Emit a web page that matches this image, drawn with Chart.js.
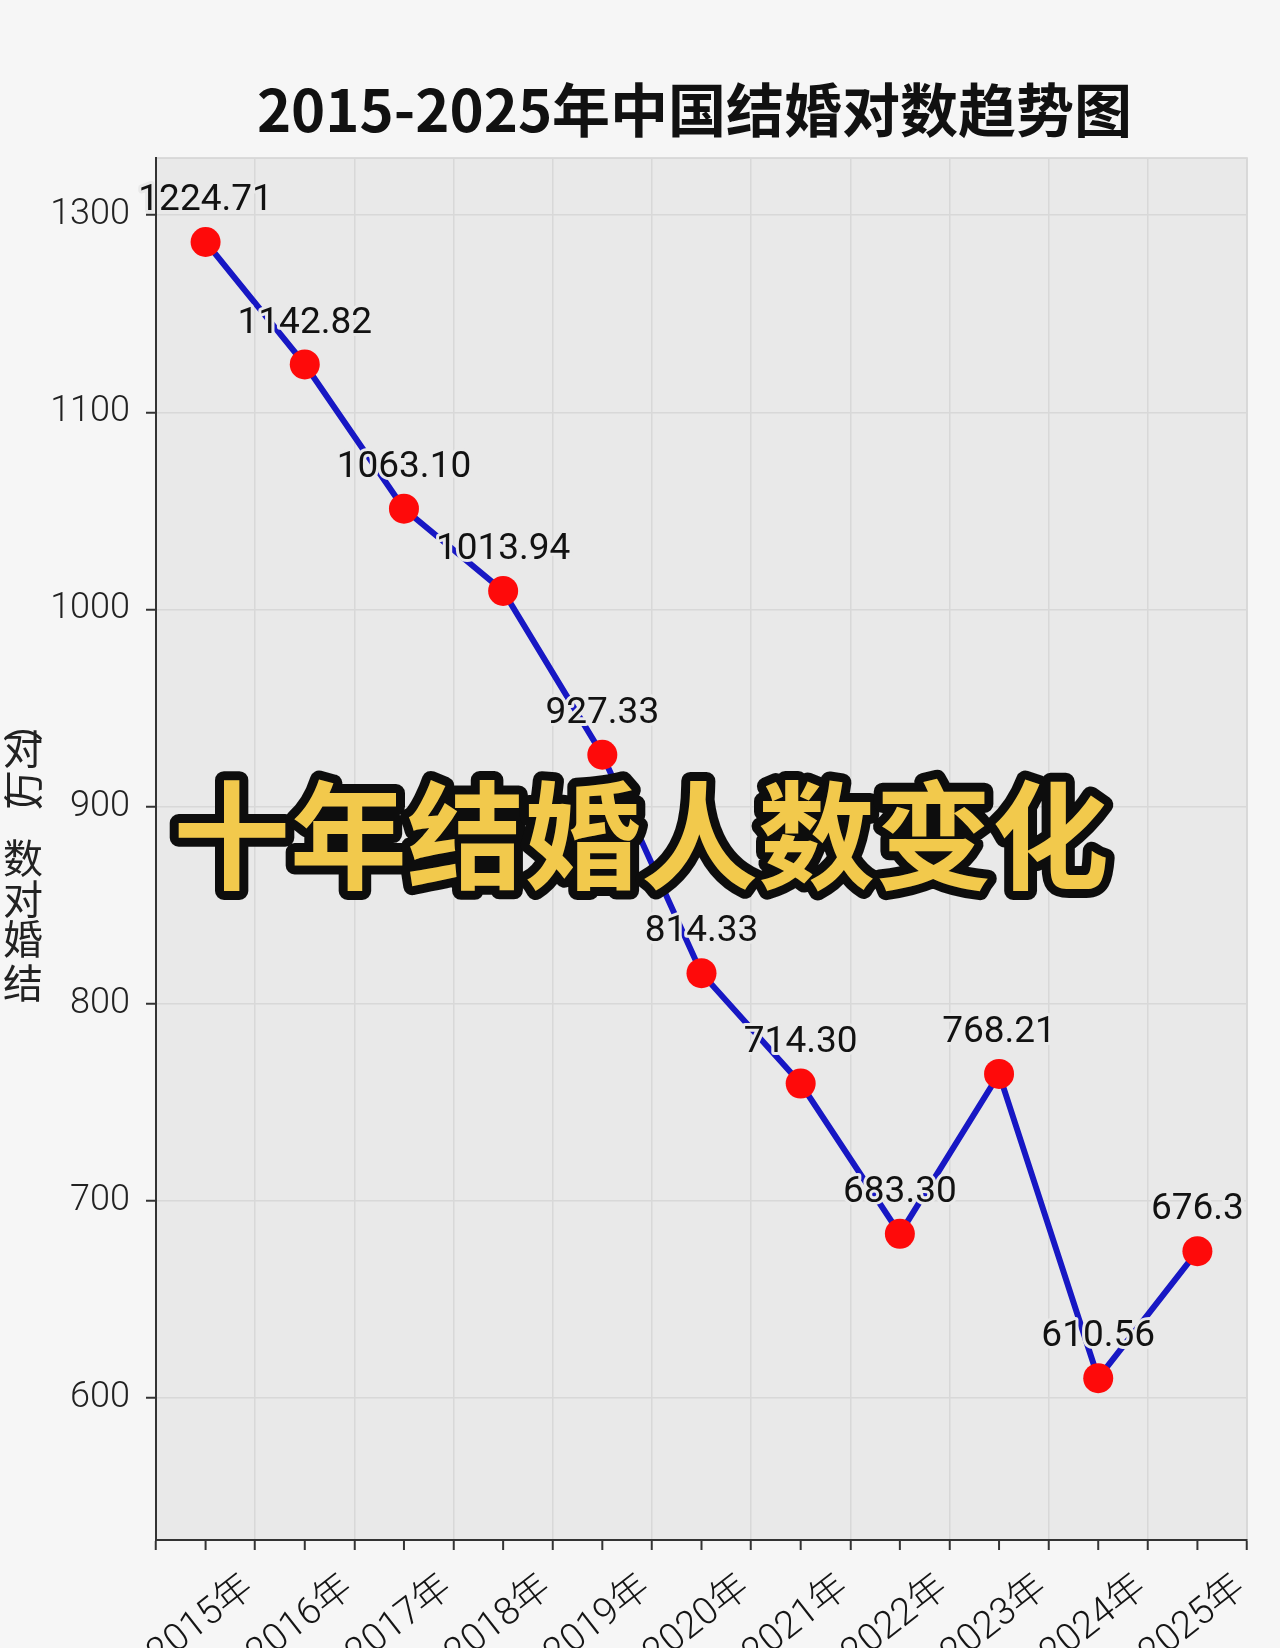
<!DOCTYPE html>
<html>
<head>
<meta charset="utf-8">
<script src="https://cdn.jsdelivr.net/npm/chart.js@4/dist/chart.umd.min.js"></script>
<style>
  html, body { margin: 0; padding: 0; background: #f6f6f6; }
  #wrap { width: 1280px; height: 1648px; }
</style>
</head>
<body>
<div id="wrap"><canvas id="marriageChart" width="1280" height="1648"></canvas></div>
<script>
// Values (plotted point heights) and the labels printed above them
const years = ['2015年', '2016年', '2017年', '2018年', '2019年', '2020年', '2021年', '2022年', '2023年', '2024年', '2025年'];
const plottedPairs = [1186.4, 1124.3, 1051.1, 1009.4, 926.3, 815.5, 759.5, 683.3, 764.4, 610.1, 674.5];
const pointLabels = ['1224.71', '1142.82', '1063.10', '1013.94', '927.33', '814.33', '714.30', '683.30', '768.21', '610.56', '676.3'];

// y tick positions and the text printed at them (top one reads 1300 in the source)
const yTickValues = [600, 700, 800, 900, 1000, 1100, 1200];
const yTickLabels = ['600', '700', '800', '900', '1000', '1100', '1300'];

const chartTitle = '2015-2025年中国结婚对数趋势图';
const overlayText = '十年结婚人数变化';
const yTitleChars = ['︵', '对', '万', '︶', '数', '对', '婚', '结'];

const PLOT_BG = '#e9e9e9';
const GRID = '#d8d8d8';
const AXIS = '#333333';

// Background for page and plot area, plus light top/right frame
const plotBackground = {
    id: 'plotBackground',
    beforeDraw(chart) {
        const { ctx, chartArea: a } = chart;
        ctx.save();
        ctx.fillStyle = '#f6f6f6';
        ctx.fillRect(0, 0, chart.width, chart.height);
        ctx.fillStyle = PLOT_BG;
        ctx.fillRect(a.left, a.top, a.right - a.left, a.bottom - a.top);
        ctx.strokeStyle = '#d2d2d2';
        ctx.lineWidth = 1.5;
        ctx.beginPath();
        ctx.moveTo(a.left, a.top);
        ctx.lineTo(a.right, a.top);
        ctx.lineTo(a.right, a.bottom);
        ctx.stroke();
        ctx.restore();
    }
};

// Extra tick marks at the category centres (grid ticks sit between categories)
const centerTicks = {
    id: 'centerTicks',
    afterDraw(chart) {
        const { ctx } = chart;
        const x = chart.scales.x;
        ctx.save();
        ctx.strokeStyle = AXIS;
        ctx.lineWidth = 2;
        years.forEach((_, i) => {
            const px = x.getPixelForValue(i);
            ctx.beginPath();
            ctx.moveTo(px, x.top);
            ctx.lineTo(px, x.top + 10);
            ctx.stroke();
        });
        ctx.restore();
    }
};

// Value labels above each point
const pointValueLabels = {
    id: 'pointValueLabels',
    afterDatasetsDraw(chart) {
        const { ctx } = chart;
        const meta = chart.getDatasetMeta(0);
        ctx.save();
        ctx.font = '37px Roboto';
        ctx.textAlign = 'center';
        ctx.textBaseline = 'middle';
        ctx.lineJoin = 'round';
        meta.data.forEach((pt, i) => {
            const y = pt.y - 41;
            ctx.strokeStyle = PLOT_BG;
            ctx.lineWidth = 6;
            ctx.strokeText(pointLabels[i], pt.x, y);
            ctx.fillStyle = '#121212';
            ctx.fillText(pointLabels[i], pt.x, y);
        });
        ctx.restore();
    }
};

// Title, stacked y-axis title and the big yellow caption
const textLayer = {
    id: 'textLayer',
    afterDraw(chart) {
        const { ctx, chartArea: a } = chart;
        ctx.save();

        ctx.font = '700 58px "Noto Sans CJK SC"';
        ctx.fillStyle = '#111111';
        ctx.textAlign = 'center';
        ctx.textBaseline = 'middle';
        ctx.fillText(chartTitle, (a.left + a.right) / 2 - 7, 110);

        ctx.font = '400 40px "Noto Sans CJK SC"';
        ctx.fillStyle = '#222222';
        const yPos = [722, 749, 790, 814, 858, 899, 939, 983];
        yTitleChars.forEach((ch, i) => {
            ctx.save();
            ctx.translate(23, yPos[i]);
            if (ch === '万') ctx.rotate(-Math.PI / 2);
            ctx.fillText(ch, 0, 0);
            ctx.restore();
        });

        ctx.font = '700 117px "Noto Sans CJK SC"';
        ctx.lineJoin = 'round';
        ctx.lineWidth = 18;
        ctx.strokeStyle = '#0d0d0d';
        ctx.strokeText(overlayText, 641, 836);
        ctx.fillStyle = '#f2c94c';
        ctx.fillText(overlayText, 641, 836);

        ctx.restore();
    }
};

const ctx = document.getElementById('marriageChart').getContext('2d');
new Chart(ctx, {
    type: 'line',
    data: {
        labels: years,
        datasets: [{
            data: plottedPairs,
            borderColor: '#1717c4',
            borderWidth: 6,
            pointRadius: 15,
            pointHoverRadius: 15,
            pointBackgroundColor: '#fe0a0a',
            pointBorderWidth: 0,
            tension: 0,
            fill: false
        }]
    },
    options: {
        responsive: false,
        animation: false,
        events: [],
        layout: {
            padding: { top: 158, right: 33, left: 0, bottom: 0 }
        },
        plugins: {
            legend: { display: false },
            title: { display: false },
            tooltip: { enabled: false }
        },
        scales: {
            x: {
                type: 'category',
                offset: true,
                grid: {
                    offset: true,
                    color: GRID,
                    lineWidth: 1.5,
                    tickLength: 10,
                    tickColor: AXIS,
                    tickWidth: 2
                },
                border: { color: AXIS, width: 2 },
                ticks: {
                    autoSkip: false,
                    minRotation: 38,
                    maxRotation: 38,
                    padding: 16,
                    labelOffset: 44,
                    color: '#151515',
                    font: { size: 38, weight: '300', family: 'Roboto, "Noto Sans CJK SC"' }
                },
                afterFit(scale) { scale.height = 108; }
            },
            y: {
                min: 528,
                max: 1229,
                afterBuildTicks(scale) {
                    scale.ticks = yTickValues.map(v => ({ value: v }));
                },
                grid: {
                    color: GRID,
                    lineWidth: 1.5,
                    tickLength: 10,
                    tickColor: AXIS,
                    tickWidth: 2
                },
                border: { color: AXIS, width: 2 },
                ticks: {
                    padding: 16,
                    color: '#222222',
                    font: { size: 36, weight: '300', family: 'Roboto' },
                    callback: v => yTickLabels[yTickValues.indexOf(v)]
                },
                afterFit(scale) { scale.width = 156; }
            }
        }
    },
    plugins: [plotBackground, centerTicks, pointValueLabels, textLayer]
});
</script>
</body>
</html>
